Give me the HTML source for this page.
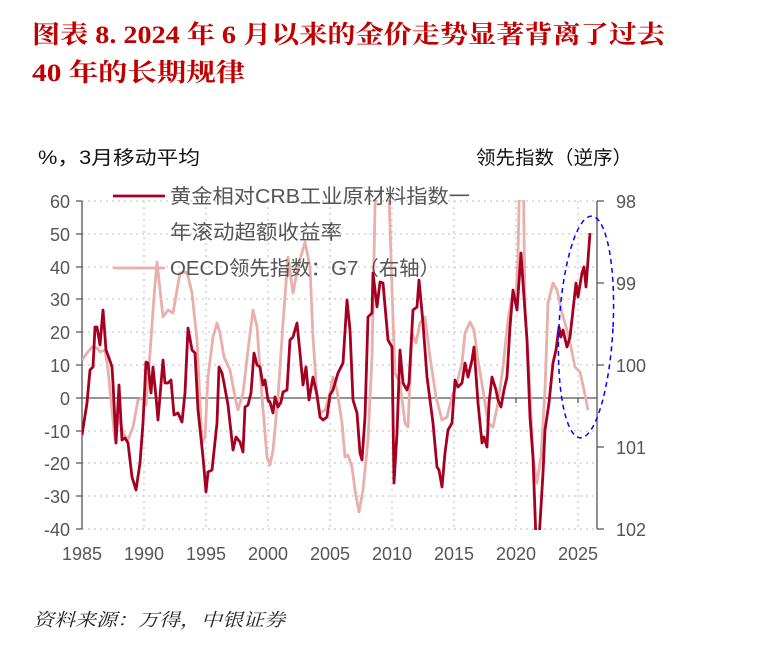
<!DOCTYPE html>
<html><head><meta charset="utf-8"><style>
body{margin:0;background:#fff;width:766px;height:654px;overflow:hidden}
svg{display:block}
</style></head><body>
<svg width="766" height="654" xmlns="http://www.w3.org/2000/svg">
<g font-family="Liberation Serif, Noto Serif CJK SC, serif" font-weight="bold" fill="#C00000" font-size="25">
<text x="32" y="43" textLength="633" lengthAdjust="spacingAndGlyphs">图表  8. 2024 年 6 月以来的金价走势显著背离了过去</text>
<text x="32" y="81" textLength="213" lengthAdjust="spacingAndGlyphs">40 年的长期规律</text>
</g>
<g font-family="Liberation Sans, Noto Sans CJK SC, sans-serif" font-size="19" fill="#111">
<text x="38" y="164" textLength="162" lengthAdjust="spacingAndGlyphs">%，3月移动平均</text>
<text x="476" y="164" textLength="156" lengthAdjust="spacingAndGlyphs">领先指数（逆序）</text>
</g>
<g stroke="#bdbdbd" stroke-width="1" stroke-dasharray="2,4">
<line x1="82" y1="201" x2="597" y2="201"/><line x1="82" y1="234" x2="597" y2="234"/>
<line x1="82" y1="267" x2="597" y2="267"/><line x1="82" y1="299" x2="597" y2="299"/>
<line x1="82" y1="332" x2="597" y2="332"/><line x1="82" y1="365" x2="597" y2="365"/>
<line x1="82" y1="431" x2="597" y2="431"/><line x1="82" y1="463" x2="597" y2="463"/>
<line x1="82" y1="496" x2="597" y2="496"/><line x1="82" y1="529" x2="597" y2="529"/>
<line x1="144" y1="201" x2="144" y2="529"/><line x1="206" y1="201" x2="206" y2="529"/>
<line x1="268" y1="201" x2="268" y2="529"/><line x1="330" y1="201" x2="330" y2="529"/>
<line x1="392" y1="201" x2="392" y2="529"/><line x1="454" y1="201" x2="454" y2="529"/>
<line x1="516" y1="201" x2="516" y2="529"/><line x1="578" y1="201" x2="578" y2="529"/>
</g>
<g stroke="#555" stroke-width="1.3" fill="none">
<line x1="82" y1="201" x2="82" y2="529"/>
<line x1="597" y1="201" x2="597" y2="529"/>
<line x1="82" y1="398" x2="597" y2="398"/>
<path d="M76 201H82M76 234H82M76 267H82M76 299H82M76 332H82M76 365H82M76 398H82M76 431H82M76 463H82M76 496H82M76 529H82"/>
<path d="M597 201H604M597 283H604M597 365H604M597 447H604M597 529H604"/>
<path d="M144 398V403M206 398V403M268 398V403M330 398V403M392 398V403M454 398V403M516 398V403M578 398V403"/>
</g>
<g font-family="Liberation Sans, sans-serif" font-size="18" fill="#555">
<g text-anchor="end">
<text x="70" y="208">60</text><text x="70" y="241">50</text><text x="70" y="274">40</text>
<text x="70" y="306">30</text><text x="70" y="339">20</text><text x="70" y="372">10</text>
<text x="70" y="405">0</text><text x="70" y="438">-10</text><text x="70" y="470">-20</text>
<text x="70" y="503">-30</text><text x="70" y="536">-40</text>
</g>
<text x="616" y="208">98</text><text x="616" y="290">99</text><text x="616" y="372">100</text>
<text x="616" y="454">101</text><text x="616" y="536">102</text>
<g text-anchor="middle">
<text x="82" y="560">1985</text><text x="144" y="560">1990</text><text x="206" y="560">1995</text>
<text x="268" y="560">2000</text><text x="330" y="560">2005</text><text x="392" y="560">2010</text>
<text x="454" y="560">2015</text><text x="516" y="560">2020</text><text x="578" y="560">2025</text>
</g>
</g>
<defs><clipPath id="c"><rect x="82" y="200" width="515" height="330"/></clipPath></defs>
<g clip-path="url(#c)" fill="none" stroke-linejoin="round">
<polyline stroke="#E8AFAB" stroke-width="2.8" points="82,360 87,353 92,347 97,348 100,352 105,350 108,370 112,410 115,440 119,417 123,433 128,440 133,427 138,400 143,398 146,405 150,353 154,297 157,262 163,317 168,310 173,313 180,273 187,272 192,293 197,340 202,443 205,437 208,377 213,337 217,323 220,333 224,357 230,370 235,397 238,410 243,393 248,350 253,310 257,327 262,397 267,457 270,465 273,450 278,397 283,323 288,257 293,293 298,267 305,242 310,267 313,337 317,397 320,413 325,410 330,393 333,377 337,390 342,423 345,457 348,455 352,467 355,490 359,512 363,490 368,440 372,357 375,207 378,150 386,150 389,193 392,290 395,373 400,383 405,423 408,427 412,333 416,343 420,323 425,317 430,357 436,397 442,420 447,417 452,397 457,383 462,363 465,333 470,322 474,330 478,360 483,390 488,423 493,427 498,403 503,367 508,320 513,292 516,300 518,257 520,150 523,150 525,307 529,373 533,457 537,483 541,457 545,390 548,303 553,283 557,290 562,313 567,330 571,347 575,367 580,372 584,390 588,410"/>
<polyline stroke="#A50021" stroke-width="2.8" points="82,435 87,403 90,370 93,367 95,327 97,327 100,345 103,310 106,350 109,358 112,367 113,383 116,443 119,385 122,440 125,438 128,443 132,477 136,490 140,463 143,423 146,362 148,363 151,393 153,367 156,397 158,420 163,360 165,383 168,383 171,380 174,415 178,413 182,422 185,393 188,328 192,350 195,353 198,410 203,457 206,492 208,472 212,470 217,423 219,367 222,373 224,383 228,405 230,423 233,450 236,437 240,442 243,452 245,407 248,405 251,393 254,353 257,365 260,367 263,385 265,380 268,400 270,402 273,413 275,397 278,407 281,402 283,392 287,390 290,340 293,337 297,323 300,353 303,385 306,367 309,400 313,377 317,395 320,417 323,420 327,417 330,395 333,390 338,373 343,363 347,300 350,330 353,400 357,413 360,453 362,460 365,417 368,317 372,313 373,273 377,307 380,282 383,283 388,340 392,347 394,483 397,433 400,350 403,383 407,390 409,383 413,310 417,307 419,280 423,323 427,377 430,400 433,423 437,467 439,470 442,487 445,453 448,430 452,423 455,380 458,387 462,383 465,363 468,377 472,360 474,347 478,403 482,443 484,437 487,447 489,403 492,377 496,390 498,400 501,407 504,390 507,377 510,327 513,290 515,300 517,310 521,253 523,283 527,340 530,417 533,457 536,540 539,540 543,473 545,430 549,403 553,363 556,350 559,327 561,337 563,330 567,347 570,337 573,310 576,283 578,297 582,273 584,267 586,287 590,233"/>
</g>
<ellipse cx="586" cy="327" rx="27" ry="111" fill="none" stroke="#0000FF" stroke-width="1.5" stroke-dasharray="5,4" transform="rotate(3 586 327)"/>
<line x1="113" y1="196" x2="165" y2="196" stroke="#A50021" stroke-width="2.8"/>
<line x1="113" y1="268" x2="165" y2="268" stroke="#E8AFAB" stroke-width="2.8"/>
<g font-family="Liberation Sans, Noto Sans CJK SC, sans-serif" font-size="20" fill="#555">
<text x="170" y="203" textLength="300" lengthAdjust="spacingAndGlyphs">黄金相对CRB工业原材料指数一</text>
<text x="170" y="239" textLength="172" lengthAdjust="spacingAndGlyphs">年滚动超额收益率</text>
<text x="170" y="275" textLength="270" lengthAdjust="spacingAndGlyphs">OECD领先指数：G7（右轴）</text>
</g>
<text x="33" y="626" font-family="Liberation Serif, Noto Serif CJK SC, serif" font-style="italic" font-size="18" fill="#222" textLength="252" lengthAdjust="spacingAndGlyphs">资料来源：万得，中银证券</text>
</svg>
</body></html>
